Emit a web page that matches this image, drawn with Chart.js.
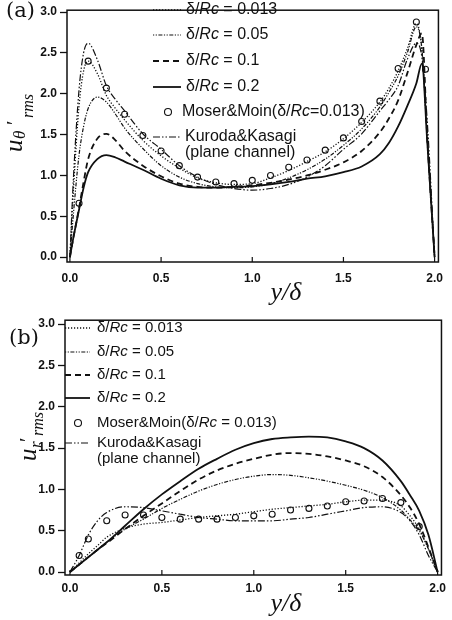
<!DOCTYPE html>
<html>
<head>
<meta charset="utf-8">
<script src="https://cdn.jsdelivr.net/npm/chart.js@4.4.1/dist/chart.umd.min.js"></script>
<style>
  html, body { margin: 0; padding: 0; background: #fff; }
  .panel { width: 452px; height: 310px; }
  canvas { display: block; }
</style>
</head>
<body>
<div class="panel"><canvas id="chartA" width="452" height="310"></canvas></div>
<div class="panel"><canvas id="chartB" width="452" height="310"></canvas></div>
<script>
// ---- panel (a): u_theta' rms ----
const xGridA = [0, 0.02, 0.05, 0.075, 0.1, 0.15, 0.2, 0.25, 0.3, 0.4, 0.5, 0.6, 0.7, 0.8, 0.9, 1.0,
  1.1, 1.2, 1.3, 1.4, 1.5, 1.6, 1.7, 1.75, 1.8, 1.85, 1.9, 1.93, 1.96, 2.0];
const uTheta013 = [0, 0.85, 1.85, 2.28, 2.4, 2.25, 1.98, 1.82, 1.68, 1.43, 1.24, 1.09, 0.97, 0.91, 0.89, 0.9,
  0.97, 1.06, 1.17, 1.29, 1.45, 1.65, 1.9, 2.07, 2.28, 2.55, 2.86, 2.55, 1.44, 0];
const uTheta05 = [0, 0.55, 1.25, 1.6, 1.82, 1.96, 1.9, 1.75, 1.58, 1.33, 1.12, 0.98, 0.9, 0.86, 0.85, 0.86,
  0.9, 0.97, 1.07, 1.2, 1.37, 1.57, 1.84, 2.02, 2.22, 2.5, 2.82, 2.55, 1.45, 0];
const uTheta1 = [0, 0.25, 0.6, 0.92, 1.2, 1.45, 1.51, 1.43, 1.3, 1.12, 0.99, 0.9, 0.86, 0.85, 0.86, 0.88,
  0.91, 0.95, 1.0, 1.07, 1.16, 1.3, 1.53, 1.7, 1.92, 2.25, 2.6, 2.74, 1.45, 0];
const uTheta2 = [0, 0.25, 0.58, 0.85, 1.04, 1.2, 1.25, 1.22, 1.17, 1.07, 0.96, 0.88, 0.85, 0.85, 0.86, 0.87,
  0.89, 0.92, 0.96, 0.99, 1.04, 1.11, 1.26, 1.4, 1.6, 1.85, 2.13, 2.37, 1.4, 0];
const uThetaKK = [0, 1.0, 2.05, 2.5, 2.62, 2.42, 2.1, 1.93, 1.79, 1.51, 1.32, 1.12, 0.98, 0.89, 0.84, 0.82,
  0.84, 0.89, 0.98, 1.12, 1.32, 1.51, 1.79, 1.93, 2.1, 2.42, 2.62, 2.45, 1.65, 0];
const moserXA = [0.05, 0.1, 0.2, 0.3, 0.4, 0.5, 0.6, 0.7, 0.8, 0.9, 1.0, 1.1, 1.2, 1.3, 1.4, 1.5, 1.6, 1.7, 1.8, 1.9, 1.95];
const moserThetaA = [0.66, 2.40, 2.07, 1.75, 1.49, 1.30, 1.12, 0.98, 0.92, 0.90, 0.94, 1.0, 1.10, 1.19, 1.31, 1.46, 1.66, 1.91, 2.31, 2.88, 2.3];

// ---- panel (b): u_r' rms ----
const xGridB = [0, 0.05, 0.1, 0.15, 0.2, 0.3, 0.4, 0.5, 0.6, 0.7, 0.8, 0.9, 1.0, 1.1, 1.2, 1.3, 1.4,
  1.5, 1.6, 1.7, 1.8, 1.85, 1.9, 1.95, 2.0];
const uR013 = [0, 0.11, 0.22, 0.32, 0.42, 0.53, 0.58, 0.6, 0.63, 0.66, 0.68, 0.7, 0.73, 0.76, 0.78, 0.8, 0.82,
  0.85, 0.87, 0.87, 0.8, 0.68, 0.52, 0.28, 0];
const uR05 = [0, 0.09, 0.18, 0.27, 0.36, 0.52, 0.64, 0.77, 0.88, 0.98, 1.06, 1.12, 1.16, 1.18, 1.17, 1.14, 1.1,
  1.05, 0.99, 0.9, 0.75, 0.63, 0.5, 0.28, 0];
const uR1 = [0, 0.09, 0.18, 0.27, 0.35, 0.52, 0.68, 0.83, 0.98, 1.12, 1.23, 1.31, 1.37, 1.42, 1.44, 1.43, 1.4,
  1.35, 1.28, 1.15, 0.93, 0.78, 0.58, 0.3, 0];
const uR2 = [0, 0.09, 0.18, 0.27, 0.36, 0.56, 0.76, 0.94, 1.1, 1.25, 1.37, 1.48, 1.56, 1.61, 1.63, 1.64, 1.63,
  1.58, 1.5, 1.35, 1.1, 0.93, 0.74, 0.45, 0];
const uRKK = [0, 0.2, 0.45, 0.62, 0.72, 0.79, 0.78, 0.74, 0.7, 0.66, 0.64, 0.62, 0.62, 0.62, 0.64, 0.66, 0.7,
  0.74, 0.78, 0.79, 0.72, 0.62, 0.45, 0.2, 0];
const moserXB = [0.05, 0.1, 0.2, 0.3, 0.4, 0.5, 0.6, 0.7, 0.8, 0.9, 1.0, 1.1, 1.2, 1.3, 1.4, 1.5, 1.6, 1.7, 1.8, 1.9];
const moserRB = [0.2, 0.40, 0.62, 0.69, 0.69, 0.66, 0.64, 0.64, 0.64, 0.66, 0.68, 0.70, 0.75, 0.77, 0.80, 0.85, 0.86, 0.89, 0.84, 0.55];

const xTicks = [0, 0.5, 1.0, 1.5, 2.0];
const yTicks = [0, 0.5, 1.0, 1.5, 2.0, 2.5, 3.0];
// legend text, _..._ marks italic
const legendA = ['δ/_Rc_ = 0.013', 'δ/_Rc_ = 0.05', 'δ/_Rc_ = 0.1', 'δ/_Rc_ = 0.2',
  'Moser&Moin(δ/_Rc_=0.013)', 'Kuroda&Kasagi', '(plane channel)'];
const legendB = ['δ/_Rc_ = 0.013', 'δ/_Rc_ = 0.05', 'δ/_Rc_ = 0.1', 'δ/_Rc_ = 0.2',
  'Moser&Moin(δ/_Rc_ = 0.013)', 'Kuroda&Kasagi', '(plane channel)'];

const INK = '#111';
const SANS = "'Liberation Sans', Arial, sans-serif";
const SERIF = "'Liberation Serif', 'Times New Roman', serif";

const pts = (xs, ys) => xs.map((x, i) => ({ x: x, y: ys[i] }));

function curve(label, xs, ys, dash, width) {
  return {
    label: label.replace(/_/g, ''),
    data: pts(xs, ys),
    borderColor: INK,
    borderWidth: width,
    borderDash: dash,
    pointRadius: 0,
    fill: false,
    cubicInterpolationMode: 'monotone',
  };
}

function buildDatasets(labels, grid, s013, s05, s1, s2, mx, my, kk) {
  return [
    curve(labels[0], grid, s013, [1.2, 1.8], 1.3),
    curve(labels[1], grid, s05, [1.2, 1.5, 1.2, 1.5, 4, 1.5], 1.2),
    curve(labels[2], grid, s1, [6, 4], 1.8),
    curve(labels[3], grid, s2, [], 1.8),
    {
      label: labels[4].replace(/_/g, ''),
      data: pts(mx, my),
      showLine: false,
      pointRadius: 3,
      pointBackgroundColor: 'rgba(255,255,255,0)',
      pointBorderColor: INK,
      pointBorderWidth: 1.1,
      order: -1,
    },
    curve(labels[5], grid, kk, [7, 2, 1.5, 2, 1.5, 2], 1.2),
  ];
}

// draw "δ/_Rc_ = 0.1" with italic parts
function richText(ctx, str, x, y, size) {
  let italic = false;
  str.split('_').forEach(part => {
    ctx.font = (italic ? 'italic ' : '') + size + 'px ' + SANS;
    ctx.fillText(part, x, y);
    x += ctx.measureText(part).width;
    italic = !italic;
  });
}

const decorations = {
  id: 'decorations',
  afterDraw(chart, args, o) {
    const ctx = chart.ctx;
    const a = chart.chartArea;
    const xs = chart.scales.x;
    ctx.save();
    ctx.strokeStyle = INK;
    ctx.fillStyle = INK;
    // frame
    ctx.lineWidth = 1.5;
    ctx.strokeRect(a.left, a.top, a.right - a.left, a.bottom - a.top);
    // x ticks point into the plot
    ctx.lineWidth = 1.2;
    xTicks.forEach(v => {
      const px = xs.getPixelForValue(v);
      ctx.beginPath();
      ctx.moveTo(px, a.bottom);
      ctx.lineTo(px, a.bottom - 5);
      ctx.stroke();
    });

    // legend inside the plot
    ctx.textBaseline = 'middle';
    o.rows.forEach((y, i) => {
      const ds = chart.data.datasets[Math.min(i, 5)];
      if (i === 4) {
        ctx.beginPath();
        ctx.lineWidth = 1.1;
        ctx.arc(o.markX, y, 3.5, 0, Math.PI * 2);
        ctx.stroke();
      } else if (i < 6) {
        ctx.beginPath();
        ctx.setLineDash(ds.borderDash);
        ctx.lineWidth = ds.borderWidth;
        ctx.moveTo(o.x0, y);
        ctx.lineTo(o.x1, y);
        ctx.stroke();
        ctx.setLineDash([]);
      }
      richText(ctx, o.labels[i], o.textX[i], y, o.size);
    });

    // panel tag
    ctx.textBaseline = 'alphabetic';
    ctx.font = "21px 'DejaVu Serif', serif";
    ctx.fillText(o.tag, o.tagX, o.tagY);

    // x title
    ctx.font = 'italic 26px ' + SERIF;
    ctx.textAlign = 'center';
    ctx.fillText('y/δ', 286, o.xTitleY);
    ctx.textAlign = 'left';

    // y title, rotated
    const t = o.yTitle;
    ctx.translate(t.x, t.y);
    ctx.rotate(-Math.PI / 2);
    ctx.font = 'italic 25px ' + SERIF;
    ctx.fillText('u', 0, 0);
    ctx.font = 'italic 17px ' + SERIF;
    ctx.fillText(t.sub, 13, t.subDy);
    ctx.font = '20px ' + SERIF;
    ctx.fillText('′', t.primeX, t.primeDy);
    ctx.font = 'italic 16px ' + SERIF;
    ctx.fillText('rms', t.rmsX, t.rmsDy);
    ctx.restore();
  }
};

function makeChart(id, datasets, geo, deco) {
  return new Chart(document.getElementById(id), {
    type: 'line',
    data: { datasets: datasets },
    plugins: [decorations],
    options: {
      responsive: false,
      animation: false,
      devicePixelRatio: 1,
      layout: { padding: { left: 0, right: 5, top: geo.top, bottom: 0 } },
      scales: {
        x: {
          type: 'linear',
          min: geo.xMin,
          max: 2.021,
          afterBuildTicks: s => { s.ticks = xTicks.map(v => ({ value: v })); },
          afterFit: s => { s.height = geo.xHeight; },
          border: { display: false },
          grid: { drawOnChartArea: false, drawTicks: false },
          ticks: {
            padding: geo.xPad,
            color: INK,
            font: { family: SANS, size: 12, weight: 'bold' },
            callback: v => v.toFixed(1),
          },
        },
        y: {
          min: geo.yMin,
          max: geo.yMax,
          afterBuildTicks: s => { s.ticks = yTicks.map(v => ({ value: v })); },
          afterFit: s => { s.width = geo.yWidth; },
          border: { display: false },
          grid: { drawOnChartArea: false, drawTicks: true, tickLength: 7, color: INK, tickWidth: 1.3 },
          ticks: {
            padding: 3,
            color: INK,
            font: { family: SANS, size: 12, weight: 'bold' },
            callback: v => v.toFixed(1),
          },
        },
      },
      plugins: {
        legend: { display: false },
        tooltip: { enabled: false },
        decorations: deco,
      },
    },
  });
}

makeChart('chartA',
  buildDatasets(legendA, xGridA, uTheta013, uTheta05, uTheta1, uTheta2, moserXA, moserThetaA, uThetaKK),
  { top: 3, xMin: -0.016, yMin: -0.06, yMax: 3.024, xHeight: 48, yWidth: 67, xPad: 9 },
  {
    labels: legendA,
    rows: [10, 35, 61, 87, 112, 137, 153],
    textX: [186, 186, 186, 186, 182, 185, 185],
    x0: 153, x1: 181, markX: 168, size: 16,
    tag: '(a)', tagX: 6, tagY: 17,
    xTitleY: 300,
    yTitle: { x: 22, y: 152, sub: 'θ', subDy: 3, primeX: 27, primeDy: -1, rmsX: 34, rmsDy: 11 },
  });

makeChart('chartB',
  buildDatasets(legendB, xGridB, uR013, uR05, uR1, uR2, moserXB, moserRB, uRKK),
  { top: 8, xMin: -0.027, yMin: -0.036, yMax: 3.048, xHeight: 45, yWidth: 65, xPad: 6 },
  {
    labels: legendB,
    rows: [18, 42, 65, 88, 113, 133, 149],
    textX: [97, 97, 97, 97, 97, 97, 97],
    x0: 65, x1: 90, markX: 78, size: 15,
    tag: '(b)', tagX: 9, tagY: 34,
    xTitleY: 301,
    yTitle: { x: 36, y: 151, sub: 'r', subDy: 5, primeX: 19, primeDy: -2, rmsX: 25, rmsDy: 7 },
  });
</script>
</body>
</html>
